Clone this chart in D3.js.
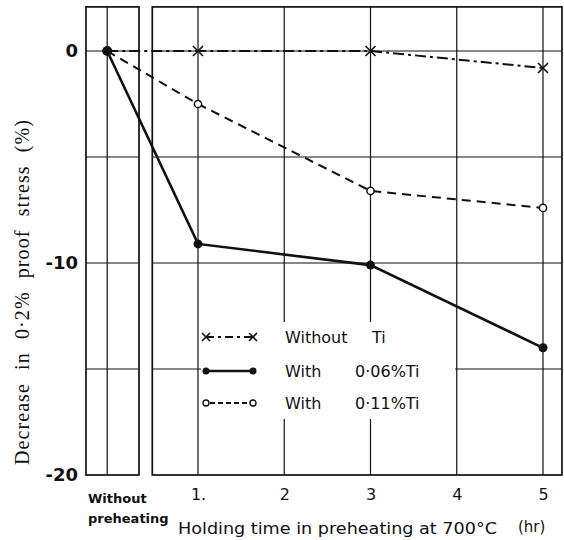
<!DOCTYPE html>
<html>
<head>
<meta charset="utf-8">
<script src="https://cdn.jsdelivr.net/npm/d3@7"></script>
<style>
  body { margin: 0; background: #fff; }
  svg { display: block; }
  .ytitle { font-family: 'Liberation Serif', 'DejaVu Serif', serif; font-size: 20px; word-spacing: 7px; letter-spacing: 1.1px; }
</style>
</head>
<body>
<div id="chart"></div>
<script>
// data
var hours = [1, 3, 5];
var preheatValue = 0;              // all three series start at 0 without preheating
var withoutTi = [0, 0, -0.8];
var ti006 = [-9.1, -10.1, -14.0];
var ti011 = [-2.5, -6.6, -7.4];
var hourTicks = [1, 2, 3, 4, 5];
var hourTickLabels = ["1.", "2", "3", "4", "5"];
var yTicks = [0, -10, -20];
var yGrid = [0, -5, -10, -15];
var legendNames = ["Without", "With", "With"];
var legendTi = ["Ti", "0·06%Ti", "0·11%Ti"];

var w = 564, h = 540;
var font = "DejaVu Sans, sans-serif";

var svg = d3.select("#chart").append("svg")
  .attr("width", w).attr("height", h);

var y = d3.scaleLinear().domain([-20, 0]).range([475, 51]);
var x = d3.scaleLinear().domain([1, 5]).range([198, 543]);
var xPre = d3.scalePoint().domain(["pre"]).range([86, 139]).align(0.4);

var yTop = y(2.08);
var rightL = x(0.47), rightR = x(5.22);

// grid in both panels
var grid = svg.append("g").attr("stroke", "#111").attr("stroke-width", 1.2);
yGrid.forEach(function(v) {
  grid.append("line").attr("x1", 86).attr("x2", 139).attr("y1", y(v)).attr("y2", y(v));
  grid.append("line").attr("x1", rightL).attr("x2", rightR).attr("y1", y(v)).attr("y2", y(v));
});
grid.append("line").attr("x1", xPre("pre")).attr("x2", xPre("pre")).attr("y1", yTop).attr("y2", y(-20));
hourTicks.forEach(function(t) {
  grid.append("line").attr("x1", x(t)).attr("x2", x(t)).attr("y1", yTop).attr("y2", y(-20));
});

// blank area behind the legend
svg.append("rect").attr("x", 201).attr("y", 322).attr("width", 254).attr("height", 97).attr("fill", "#fff");

// frames
svg.append("rect").attr("x", 86).attr("y", yTop).attr("width", 53).attr("height", y(-20) - yTop)
  .attr("fill", "none").attr("stroke", "#111").attr("stroke-width", 1.7);
svg.append("rect").attr("x", rightL).attr("y", yTop).attr("width", rightR - rightL).attr("height", y(-20) - yTop)
  .attr("fill", "none").attr("stroke", "#111").attr("stroke-width", 1.7);

// series
function pts(vals) {
  return [[xPre("pre"), y(preheatValue)]].concat(hours.map(function(hr, i) { return [x(hr), y(vals[i])]; }));
}
var line = d3.line();

svg.append("path").attr("d", line(pts(withoutTi)))
  .attr("fill", "none").attr("stroke", "#111").attr("stroke-width", 2)
  .attr("stroke-dasharray", "11,4,3,4");
svg.append("path").attr("d", line(pts(ti011)))
  .attr("fill", "none").attr("stroke", "#111").attr("stroke-width", 2)
  .attr("stroke-dasharray", "9,6");
svg.append("path").attr("d", line(pts(ti006)))
  .attr("fill", "none").attr("stroke", "#111").attr("stroke-width", 2.6);

// markers
function cross(g, cx, cy, s) {
  g.append("path").attr("d", "M" + (cx - s) + "," + (cy - s) + "L" + (cx + s) + "," + (cy + s) +
    "M" + (cx - s) + "," + (cy + s) + "L" + (cx + s) + "," + (cy - s))
    .attr("stroke", "#111").attr("stroke-width", 1.6).attr("fill", "none");
}
var marks = svg.append("g");
hours.forEach(function(hr, i) {
  cross(marks, x(hr), y(withoutTi[i]), 5);
  marks.append("circle").attr("cx", x(hr)).attr("cy", y(ti011[i])).attr("r", 3.6)
    .attr("fill", "#fff").attr("stroke", "#111").attr("stroke-width", 1.5);
  marks.append("circle").attr("cx", x(hr)).attr("cy", y(ti006[i])).attr("r", 4.5).attr("fill", "#111");
});
marks.append("circle").attr("cx", xPre("pre")).attr("cy", y(preheatValue)).attr("r", 5).attr("fill", "#111");

// y axis labels
var yAxis = d3.axisLeft(y).tickValues(yTicks).tickSize(0).tickPadding(8)
  .tickFormat(function(d) { return String(d); });
var gy = svg.append("g").attr("transform", "translate(86,0)").call(yAxis);
gy.select(".domain").remove();
gy.selectAll("text").attr("font-family", font).attr("font-size", 18).attr("font-weight", "bold").attr("fill", "#111");

// x axis labels
var xAxis = d3.axisBottom(x).tickValues(hourTicks).tickSize(0).tickPadding(14)
  .tickFormat(function(d, i) { return hourTickLabels[i]; });
var gx = svg.append("g").attr("transform", "translate(0,475)").call(xAxis);
gx.select(".domain").remove();
gx.selectAll("text").attr("font-family", font).attr("font-size", 16).attr("fill", "#111");

svg.append("text").attr("x", 88).attr("y", 503).text("Without")
  .attr("font-family", font).attr("font-size", 13).attr("font-weight", "bold").attr("fill", "#111");
svg.append("text").attr("x", 88).attr("y", 523).text("preheating")
  .attr("font-family", font).attr("font-size", 13).attr("font-weight", "bold").attr("fill", "#111");

svg.append("text").attr("x", 178).attr("y", 534).text("Holding time in preheating at 700°C")
  .attr("textLength", 319).attr("lengthAdjust", "spacingAndGlyphs")
  .attr("font-family", font).attr("font-size", 16).attr("fill", "#111");
svg.append("text").attr("x", 518).attr("y", 532).text("(hr)")
  .attr("font-family", font).attr("font-size", 15).attr("fill", "#111");

// y title
svg.append("text")
  .attr("class", "ytitle")
  .attr("transform", "translate(29,292) rotate(-90)")
  .attr("text-anchor", "middle")
  .attr("fill", "#111")
  .text("Decrease in 0·2% proof stress (%)");

// legend
var legendY = [337, 371, 403];
var lg = svg.append("g");
legendY.forEach(function(ly, i) {
  var l = lg.append("line").attr("x1", 206).attr("x2", 253).attr("y1", ly).attr("y2", ly)
    .attr("stroke", "#111").attr("stroke-width", i === 1 ? 2.6 : 2);
  if (i === 0) { l.attr("stroke-dasharray", "8,4,3,4"); cross(lg, 206, ly, 4); cross(lg, 253, ly, 4); }
  if (i === 1) {
    lg.append("circle").attr("cx", 206).attr("cy", ly).attr("r", 3.5).attr("fill", "#111");
    lg.append("circle").attr("cx", 253).attr("cy", ly).attr("r", 3.5).attr("fill", "#111");
  }
  if (i === 2) {
    l.attr("stroke-dasharray", "5,3").attr("x1", 210).attr("x2", 250);
    lg.append("circle").attr("cx", 206).attr("cy", ly).attr("r", 3).attr("fill", "#fff").attr("stroke", "#111").attr("stroke-width", 1.4);
    lg.append("circle").attr("cx", 253).attr("cy", ly).attr("r", 3).attr("fill", "#fff").attr("stroke", "#111").attr("stroke-width", 1.4);
  }
  lg.append("text").attr("x", 285).attr("y", ly + 6).text(legendNames[i])
    .attr("font-family", font).attr("font-size", 16).attr("fill", "#111");
  lg.append("text").attr("x", i === 0 ? 372 : 355).attr("y", ly + 6).text(legendTi[i])
    .attr("font-family", font).attr("font-size", 16).attr("fill", "#111");
});
</script>
</body>
</html>
